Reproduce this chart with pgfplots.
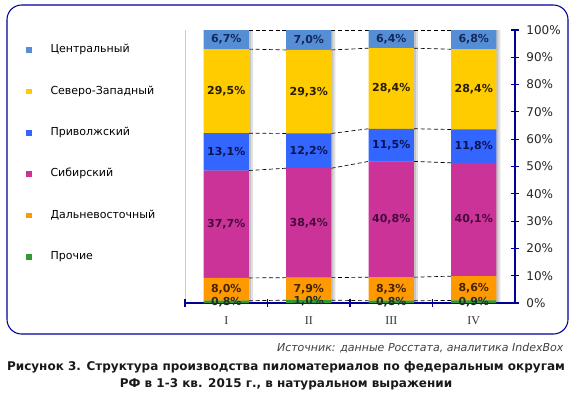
\documentclass[border=0pt]{standalone}
\usepackage{fontspec}
\setmainfont{DejaVu Sans}
\newfontfamily\seriffont{Liberation Serif}
\usepackage{pgfplots}
\usepackage{pgfplotstable}
\pgfplotsset{compat=1.18}
\definecolor{cC}{RGB}{85,142,213}
\definecolor{cSZ}{RGB}{255,204,0}
\definecolor{cPV}{RGB}{51,102,255}
\definecolor{cSB}{RGB}{204,51,153}
\definecolor{cDV}{RGB}{255,153,0}
\definecolor{cPR}{RGB}{51,153,51}
\definecolor{axc}{RGB}{0,0,153}
\definecolor{tC}{RGB}{20,40,90}
\definecolor{tSZ}{RGB}{40,30,0}
\definecolor{tPV}{RGB}{10,20,80}
\definecolor{tSB}{RGB}{70,10,60}
\definecolor{tDV}{RGB}{70,35,0}
\definecolor{tPR}{RGB}{30,50,40}

\pgfplotstableread{
x  pr   dv   sib   pri   sz    c    tot
0  0.8  8.0  37.7  13.1  29.5  6.7  95.8
1  1.0  7.9  38.4  12.2  29.3  7.0  95.8
2  0.8  8.3  40.8  11.5  28.4  6.4  96.2
3  0.9  8.6  40.1  11.8  28.4  6.8  96.6
}\data

\pgfplotstableread{
xp     pr   dv   sib   pri   sz    c    tot
0.275  0.8  8.0  37.7  13.1  29.5  6.7  95.8
0.725  1.0  7.9  38.4  12.2  29.3  7.0  95.8
nan    0    0    0     0     0     0    1
1.275  1.0  7.9  38.4  12.2  29.3  7.0  95.8
1.725  0.8  8.3  40.8  11.5  28.4  6.4  96.2
nan    0    0    0     0     0     0    1
2.275  0.8  8.3  40.8  11.5  28.4  6.4  96.2
2.725  0.9  8.6  40.1  11.8  28.4  6.8  96.6
}\lines

\pgfplotsset{
  common/.style={
    scale only axis, width=247.5pt, height=204.75pt,
    at={(138.75pt,-227.25pt)}, anchor=south west,
    xmin=-0.5, xmax=3.5, ymin=0, ymax=100,
  },
  lab/.style={draw=none, mark=none, nodes near coords={\pgfmathprintnumber[fixed,fixed zerofill,precision=1,use comma,assume math mode=true]{\pgfplotspointmeta}\%},
    nodes near coords style={anchor=center, font=\fontsize{8.25pt}{9pt}\selectfont\bfseries, text=#1}},
}

\begin{document}
\begin{tikzpicture}
\path[use as bounding box] (0,0) rectangle (429.75pt,-295.5pt);
\draw[axc, line width=0.8pt, rounded corners=11pt] (5.25pt,-3.75pt) rectangle (426pt,-250.5pt);

% shadows and series lines
\begin{axis}[common, hide axis, clip=false, unbounded coords=jump]
\addplot[ybar, bar width=0.55, bar shift=3pt, draw=none, fill=black, fill opacity=0.12]
  table[x=x, y expr=(\thisrow{pr}+\thisrow{dv}+\thisrow{sib}+\thisrow{pri}+\thisrow{sz}+\thisrow{c})/\thisrow{tot}*100] {\data};
\addplot[ybar, bar width=0.55, bar shift=1.5pt, draw=none, fill=black, fill opacity=0.12]
  table[x=x, y expr=(\thisrow{pr}+\thisrow{dv}+\thisrow{sib}+\thisrow{pri}+\thisrow{sz}+\thisrow{c})/\thisrow{tot}*100] {\data};
\draw[gray!40, line width=0.6pt] (axis cs:-0.5,0) -- (axis cs:-0.5,100);
\foreach \ex in {
  {\thisrow{pr}},
  {\thisrow{pr}+\thisrow{dv}},
  {\thisrow{pr}+\thisrow{dv}+\thisrow{sib}},
  {\thisrow{pr}+\thisrow{dv}+\thisrow{sib}+\thisrow{pri}},
  {\thisrow{pr}+\thisrow{dv}+\thisrow{sib}+\thisrow{pri}+\thisrow{sz}},
  {\thisrow{pr}+\thisrow{dv}+\thisrow{sib}+\thisrow{pri}+\thisrow{sz}+\thisrow{c}}}{
  \addplot[sharp plot, black, densely dashed, line width=0.5pt, mark=none]
    table[x=xp, y expr=(\ex)/\thisrow{tot}*100] {\lines};
}
\end{axis}

% bars
\begin{axis}[common,
  ybar stacked, bar width=0.55,
  axis x line*=bottom, axis y line*=right,
  axis line style={axc, line width=0.8pt},
  xtick={0,1,2,3}, xticklabels={I,II,III,IV},
  major x tick style={draw=none},
  minor xtick={-0.5,0.5,1.5,2.5},
  minor x tick style={axc, line width=0.8pt},
  minor tick length=6pt,
  xticklabel style={font=\seriffont\fontsize{9pt}{10pt}\selectfont, text=black!80, yshift=-4pt},
  ytick={0,10,...,100},
  y tick style={axc, line width=0.8pt},
  major tick length=6pt, tick align=center,
  /pgf/number format/assume math mode=true,
  yticklabel={\pgfmathprintnumber{\tick}\%},
  yticklabel style={font=\fontsize{9pt}{10pt}\selectfont, anchor=west, xshift=2pt, text=black!85},
  legend style={at={(-0.494,0.957)}, anchor=north west, draw=none, fill=none,
    font=\fontsize{8.25pt}{9pt}\selectfont, row sep=23.05pt,
    nodes={text height=6pt, text depth=2pt, inner sep=0pt},
    /tikz/every odd column/.append style={column sep=14pt}},
  legend cell align=left, reverse legend,
  legend image code/.code={\fill[#1] (0pt,-2.1pt) rectangle (4.2pt,2.1pt);},
]
\addplot[draw=none, fill=cPR] table[x=x, y expr=\thisrow{pr}/\thisrow{tot}*100] {\data};
\addplot[draw=none, fill=cDV] table[x=x, y expr=\thisrow{dv}/\thisrow{tot}*100] {\data};
\addplot[draw=none, fill=cSB] table[x=x, y expr=\thisrow{sib}/\thisrow{tot}*100] {\data};
\addplot[draw=none, fill=cPV] table[x=x, y expr=\thisrow{pri}/\thisrow{tot}*100] {\data};
\addplot[draw=none, fill=cSZ] table[x=x, y expr=\thisrow{sz}/\thisrow{tot}*100] {\data};
\addplot[draw=none, fill=cC] table[x=x, y expr=\thisrow{c}/\thisrow{tot}*100] {\data};
\legend{Прочие, Дальневосточный, Сибирский, Приволжский, Северо-Западный, Центральный}
\end{axis}

% labels
\begin{axis}[common, hide axis, clip=false, point meta=explicit]
\addplot[lab=tPR] table[x=x, meta=pr, y expr=(\thisrow{pr}/2)/\thisrow{tot}*100] {\data};
\addplot[lab=tDV] table[x=x, meta=dv, y expr=(\thisrow{pr}+\thisrow{dv}/2)/\thisrow{tot}*100] {\data};
\addplot[lab=tSB] table[x=x, meta=sib, y expr=(\thisrow{pr}+\thisrow{dv}+\thisrow{sib}/2)/\thisrow{tot}*100] {\data};
\addplot[lab=tPV] table[x=x, meta=pri, y expr=(\thisrow{pr}+\thisrow{dv}+\thisrow{sib}+\thisrow{pri}/2)/\thisrow{tot}*100] {\data};
\addplot[lab=tSZ] table[x=x, meta=sz, y expr=(\thisrow{pr}+\thisrow{dv}+\thisrow{sib}+\thisrow{pri}+\thisrow{sz}/2)/\thisrow{tot}*100] {\data};
\addplot[lab=tC] table[x=x, meta=c, y expr=(\thisrow{pr}+\thisrow{dv}+\thisrow{sib}+\thisrow{pri}+\thisrow{sz}+\thisrow{c}/2)/\thisrow{tot}*100] {\data};
\end{axis}

\node[anchor=east, font=\fontsize{8.25pt}{9pt}\selectfont\itshape, text=black!75] at (426pt,-261pt) {Источник: данные Росстата, аналитика IndexBox};
\node[align=center, font=\fontsize{9pt}{12.75pt}\selectfont\bfseries, text=black!90] at (214.5pt,-281.5pt)
  {Рисунок 3. Структура производства пиломатериалов по федеральным округам\\РФ в 1-3 кв. 2015 г., в натуральном выражении};
\end{tikzpicture}
\end{document}
